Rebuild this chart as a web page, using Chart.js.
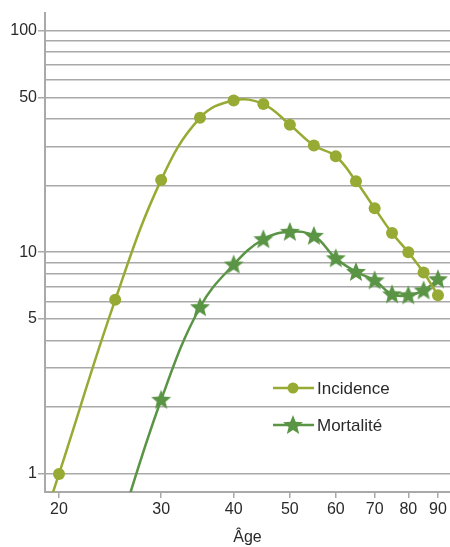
<!DOCTYPE html>
<html>
<head>
<meta charset="utf-8">
<script src="https://cdn.jsdelivr.net/npm/chart.js@4"></script>
<style>
  html, body { margin: 0; padding: 0; background: #fff; }
  #wrap { width: 450px; height: 547px; }
</style>
</head>
<body>
<div id="wrap"><canvas id="myChart" width="450" height="547"></canvas></div>
<script>
// data
var ages = [15, 20, 25, 30, 35, 40, 45, 50, 55, 60, 65, 70, 75, 80, 85, 90];
var incidence = [0.1, 1.0, 6.1, 21.2, 40.4, 48.4, 46.6, 37.6, 30.3, 27.1, 20.9, 15.8, 12.2, 10.0, 8.1, 6.4];
var mortalite = [null, null, 0.5, 2.16, 5.65, 8.8, 11.45, 12.36, 11.86, 9.39, 8.15, 7.47, 6.46, 6.39, 6.73, 7.55];
var xTicks = [20, 30, 40, 50, 60, 70, 80, 90];
var yGrid = [1, 2, 3, 4, 5, 6, 7, 8, 9, 10, 20, 30, 40, 50, 60, 70, 80, 90, 100];
var yLabels = [1, 5, 10, 50, 100];
var seriesNames = ['Incidence', 'Mortalité'];

var colInc = '#97aa33';
var colMort = '#5a9445';
var gridCol = '#a9a9a9';
var txtCol = '#2a2a2a';
var fontFam = '"Liberation Sans", Arial, sans-serif';

function makeStar(color) {
    var c = document.createElement('canvas');
    c.width = 22; c.height = 22;
    var g = c.getContext('2d');
    g.fillStyle = color;
    g.beginPath();
    for (var i = 0; i < 10; i++) {
        var r = i % 2 === 0 ? 10.5 : 4.6;
        var a = -Math.PI / 2 + i * Math.PI / 5;
        var px = 11 + r * Math.cos(a), py = 11.5 + r * Math.sin(a);
        if (i === 0) g.moveTo(px, py); else g.lineTo(px, py);
    }
    g.closePath();
    g.fill();
    return c;
}
var starImg = makeStar(colMort);

function toPoints(vals) {
    return ages.map(function (a, i) { return { x: a, y: vals[i] }; });
}

// legend drawn inside the plot, like the original
var insideLegend = {
    id: 'insideLegend',
    afterDraw: function (chart) {
        var ctx = chart.ctx;
        var items = [
            { y: 388, color: colInc, star: false, text: seriesNames[0] },
            { y: 425, color: colMort, star: true, text: seriesNames[1] }
        ];
        ctx.save();
        items.forEach(function (it) {
            ctx.strokeStyle = it.color;
            ctx.lineWidth = 2.5;
            ctx.beginPath();
            ctx.moveTo(273, it.y);
            ctx.lineTo(314, it.y);
            ctx.stroke();
            if (it.star) {
                ctx.drawImage(starImg, 293 - 11, it.y - 11);
            } else {
                ctx.fillStyle = it.color;
                ctx.beginPath();
                ctx.arc(293, it.y, 5.5, 0, Math.PI * 2);
                ctx.fill();
            }
            ctx.fillStyle = txtCol;
            ctx.font = '17px ' + fontFam;
            ctx.textBaseline = 'middle';
            ctx.fillText(it.text, 317, it.y + 1);
        });
        ctx.restore();
    }
};

var ctx = document.getElementById('myChart').getContext('2d');
new Chart(ctx, {
    type: 'line',
    data: {
        datasets: [{
            label: seriesNames[0],
            data: toPoints(incidence),
            borderColor: colInc,
            backgroundColor: colInc,
            borderWidth: 2.5,
            pointRadius: 6,
            pointHoverRadius: 6,
            pointBorderWidth: 0,
            pointStyle: 'circle',
            tension: 0.4,
            clip: { left: 0, bottom: 0, top: 20, right: 20 }
        }, {
            label: seriesNames[1],
            data: toPoints(mortalite),
            borderColor: colMort,
            backgroundColor: colMort,
            borderWidth: 2.5,
            pointStyle: starImg,
            pointRadius: 10,
            pointBorderWidth: 0,
            tension: 0.4,
            clip: { left: 0, bottom: 0, top: 20, right: 20 }
        }]
    },
    options: {
        responsive: false,
        animation: false,
        layout: { autoPadding: false, padding: { top: 13, right: 0, left: 0, bottom: 0 } },
        plugins: {
            legend: { display: false },
            tooltip: { enabled: false }
        },
        scales: {
            x: {
                type: 'logarithmic',
                min: 18.92,
                max: 94.4,
                afterBuildTicks: function (scale) {
                    scale.ticks = xTicks.map(function (v) { return { value: v }; });
                },
                afterFit: function (scale) {
                    scale.height = 55;
                    scale.paddingLeft = 0;
                    scale.paddingRight = 0;
                },
                border: { color: gridCol, width: 2 },
                grid: { drawOnChartArea: false, drawTicks: true, tickLength: 6, color: gridCol, lineWidth: 1.5 },
                ticks: {
                    autoSkip: false,
                    maxRotation: 0,
                    padding: 2,
                    color: txtCol,
                    font: { family: fontFam, size: 16 },
                    callback: function (v) { return String(v); }
                },
                title: {
                    display: true,
                    text: 'Âge',
                    color: txtCol,
                    font: { family: fontFam, size: 16 },
                    padding: { top: 4, bottom: 0 }
                }
            },
            y: {
                type: 'logarithmic',
                min: 0.829,
                max: 120,
                afterBuildTicks: function (scale) {
                    scale.ticks = yGrid.map(function (v) { return { value: v }; });
                },
                afterFit: function (scale) {
                    scale.width = 45;
                    scale.paddingTop = 0;
                    scale.paddingBottom = 0;
                },
                border: { color: gridCol, width: 2 },
                grid: {
                    color: gridCol,
                    lineWidth: 1.5,
                    tickLength: 7,
                    tickColor: function (c) {
                        return c.tick && yLabels.indexOf(c.tick.value) >= 0 ? gridCol : 'rgba(0,0,0,0)';
                    }
                },
                ticks: {
                    autoSkip: false,
                    padding: 1,
                    color: txtCol,
                    font: { family: fontFam, size: 16 },
                    callback: function (v) {
                        return yLabels.indexOf(v) >= 0 ? String(v) : '';
                    }
                }
            }
        }
    },
    plugins: [insideLegend]
});
</script>
</body>
</html>
